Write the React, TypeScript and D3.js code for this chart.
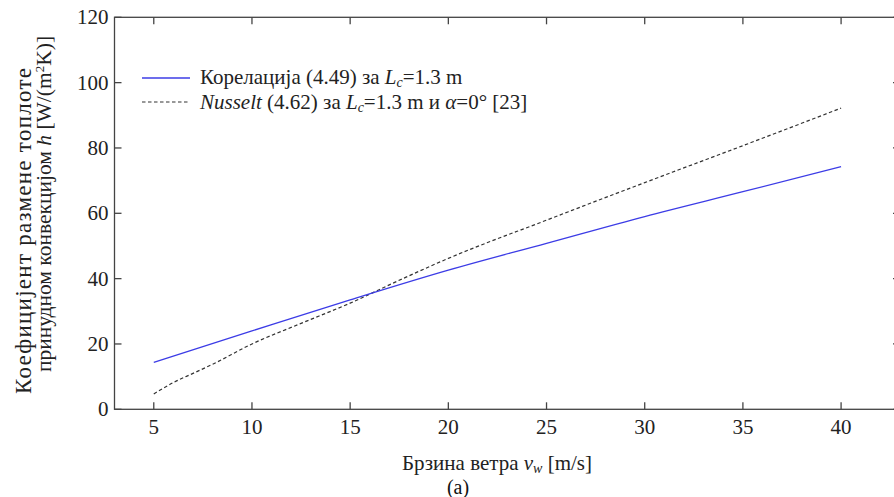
import React from "react";
import * as d3 from "d3";

const xTicks = [5, 10, 15, 20, 25, 30, 35, 40];
const yTicks = [0, 20, 40, 60, 80, 100, 120];
const corrSpeed = [5, 10, 15, 20, 25, 30, 35, 40];
const corrValues = [14.4, 24.0, 33.5, 42.6, 50.8, 59.0, 66.6, 74.3];
const nuSpeed = [5, 6, 7, 8, 10, 12.5, 15, 17.5, 20, 25, 30, 35, 40];
const nuValues = [4.7, 8.2, 11.0, 13.8, 20.0, 26.3, 32.5, 39.5, 46.2, 57.9, 69.4, 80.7, 92.2];

const W = 894;
const H = 497;
const FONT = '"Liberation Serif", "Times New Roman", "DejaVu Serif", serif';

export default function App() {
  const x = d3.scaleLinear().domain([3, 43]).range([114.5, 900]);
  const y = d3.scaleLinear().domain([0, 120]).range([409.3, 17.3]);
  const line = d3
    .line<[number, number]>()
    .x((d) => x(d[0]))
    .y((d) => y(d[1]))
    .curve(d3.curveMonotoneX);
  const corrPts = corrSpeed.map((s, i) => [s, corrValues[i]] as [number, number]);
  const nuPts = nuSpeed.map((s, i) => [s, nuValues[i]] as [number, number]);
  const axisColor = "#444";
  const tickLen = 7;
  const x0 = x.range()[0];
  const x1 = x.range()[1];
  const y0 = y.range()[0];
  const y1 = y.range()[1];
  const fs = 21;
  const ts = { fontFamily: FONT };

  return (
    <svg
      width={W}
      height={H}
      style={{ position: "absolute", left: 0, top: 0, background: "#fff", fontFamily: FONT }}
    >
      <rect x={0} y={0} width={W} height={H} fill="#fff" />
      <rect x={x0} y={y1} width={x1 - x0} height={y0 - y1} fill="none" stroke={axisColor} strokeWidth={1.3} />
      {xTicks.map((t) => (
        <g key={"x" + t}>
          <line x1={x(t)} x2={x(t)} y1={y0} y2={y0 - tickLen} stroke={axisColor} strokeWidth={1.3} />
          <line x1={x(t)} x2={x(t)} y1={y1} y2={y1 + tickLen} stroke={axisColor} strokeWidth={1.3} />
          <text x={x(t)} y={y0 + 25} textAnchor="middle" fontSize={fs} fill="#222" style={ts}>
            {t}
          </text>
        </g>
      ))}
      {yTicks.map((t) => (
        <g key={"y" + t}>
          <line x1={x0} x2={x0 + tickLen} y1={y(t)} y2={y(t)} stroke={axisColor} strokeWidth={1.3} />
          <line x1={x1} x2={x1 - tickLen} y1={y(t)} y2={y(t)} stroke={axisColor} strokeWidth={1.3} />
          <text x={x0 - 6} y={y(t) + 7} textAnchor="end" fontSize={fs} fill="#222" style={ts}>
            {t}
          </text>
        </g>
      ))}
      <path d={line(nuPts) || ""} fill="none" stroke="#333" strokeWidth={1.2} strokeDasharray="3.5,2.5" />
      <path d={line(corrPts) || ""} fill="none" stroke="#3c3ce6" strokeWidth={1.3} />
      <line x1={142} x2={190} y1={78} y2={78} stroke="#3c3ce6" strokeWidth={1.3} />
      <text x={200} y={84} fontSize={fs} fill="#222" style={ts}>
        Корелација (4.49) за <tspan fontStyle="italic">L</tspan>
        <tspan fontStyle="italic" fontSize={14} dy={3}>c</tspan>
        <tspan dy={-3}>=1.3 m</tspan>
      </text>
      <line x1={142} x2={190} y1={102} y2={102} stroke="#333" strokeWidth={1.2} strokeDasharray="3.5,2.5" />
      <text x={200} y={109} fontSize={fs} fill="#222" style={ts}>
        <tspan fontStyle="italic">Nusselt</tspan> (4.62) за <tspan fontStyle="italic">L</tspan>
        <tspan fontStyle="italic" fontSize={14} dy={3}>c</tspan>
        <tspan dy={-3}>=1.3 m и </tspan>
        <tspan fontStyle="italic">α</tspan>=0° [23]
      </text>
      <text
        transform="translate(31,231) rotate(-90)"
        textAnchor="middle"
        fontSize={23}
        fill="#222"
        style={ts}
        textLength={326}
        lengthAdjust="spacing"
      >
        Коефицијент размене топлоте
      </text>
      <text transform="translate(51,204) rotate(-90)" textAnchor="middle" fontSize={21.5} fill="#222" style={ts}>
        принудном конвекцијом <tspan fontStyle="italic">h</tspan> [W/(m
        <tspan fontSize={13} dy={-7}>2</tspan>
        <tspan dy={7}>K)]</tspan>
      </text>
      <text x={497} y={470} textAnchor="middle" fontSize={fs} fill="#222" style={ts}>
        Брзина ветра <tspan fontStyle="italic">v</tspan>
        <tspan fontStyle="italic" fontSize={14} dy={3}>w</tspan>
        <tspan dy={-3}> [m/s]</tspan>
      </text>
      <text x={458} y={494} textAnchor="middle" fontSize={20} fill="#111" style={ts}>
        (a)
      </text>
    </svg>
  );
}
